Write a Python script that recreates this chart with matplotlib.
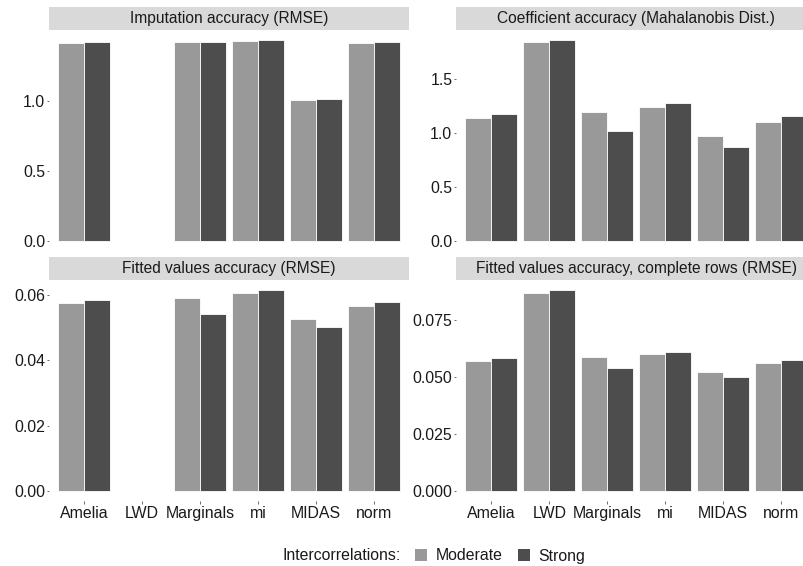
import numpy as np
import matplotlib
matplotlib.use("Agg")
from matplotlib import pyplot as plt
from matplotlib.patches import Patch

plt.rcParams['font.family'] = ['Liberation Sans', 'DejaVu Sans']

methods = ['Amelia', 'LWD', 'Marginals', 'mi', 'MIDAS', 'norm']
levels = ['Moderate', 'Strong']
colors = ['#999999', '#4d4d4d']

# RMSE of imputed values (LWD imputes nothing)
imp_moderate = [1.417, np.nan, 1.421, 1.429, 1.010, 1.417]
imp_strong = [1.419, np.nan, 1.421, 1.436, 1.012, 1.421]

# Mahalanobis distance of coefficients
coef_moderate = [1.133, 1.837, 1.194, 1.241, 0.969, 1.099]
coef_strong = [1.176, 1.858, 1.019, 1.275, 0.870, 1.155]

# RMSE of fitted values
fit_moderate = [0.0575, np.nan, 0.0592, 0.0607, 0.0527, 0.0566]
fit_strong = [0.0585, np.nan, 0.0544, 0.0616, 0.0503, 0.0579]

# RMSE of fitted values, complete rows only
fitc_moderate = [0.0570, 0.0867, 0.0589, 0.0601, 0.0523, 0.0563]
fitc_strong = [0.0582, 0.0882, 0.0541, 0.0611, 0.0500, 0.0575]

panels = [
    ("Imputation accuracy (RMSE)", imp_moderate, imp_strong,
     [0.0, 0.5, 1.0], "{:.1f}"),
    ("Coefficient accuracy (Mahalanobis Dist.)", coef_moderate, coef_strong,
     [0.0, 0.5, 1.0, 1.5], "{:.1f}"),
    ("Fitted values accuracy (RMSE)", fit_moderate, fit_strong,
     [0.0, 0.02, 0.04, 0.06], "{:.2f}"),
    ("Fitted values accuracy, complete rows (RMSE)", fitc_moderate, fitc_strong,
     [0.0, 0.025, 0.05, 0.075], "{:.3f}"),
]

W, H = 804, 566
FS = 11.4
fig = plt.figure(figsize=(W / 100, H / 100), dpi=100)


def px_rect(x0, y0, x1, y1):
    return [x0 / W, 1 - y1 / H, (x1 - x0) / W, (y1 - y0) / H]


cols = [(49.2, 408.8), (456.5, 816.1)]
rows = [((6.7, 30.0), (30.0, 251.0)), ((257.3, 280.0), (280.0, 501.0))]

x = np.arange(len(methods))
for i, (title, mod, strong, yticks, fmt) in enumerate(panels):
    r, c = divmod(i, 2)
    (sy0, sy1), (py0, py1) = rows[r]
    cx0, cx1 = cols[c]

    ax = fig.add_axes(px_rect(cx0, py0, cx1, py1))
    ax.bar(x - 0.225, mod, width=0.45, color=colors[0], edgecolor='white', linewidth=0.6)
    ax.bar(x + 0.225, strong, width=0.45, color=colors[1], edgecolor='white', linewidth=0.6)
    top = np.nanmax(np.concatenate([mod, strong]))
    ax.set_ylim(-0.05 * top, 1.05 * top)
    ax.set_xlim(-0.6, len(methods) - 0.4)
    for s in ax.spines.values():
        s.set_visible(False)
    ax.set_yticks(yticks)
    ax.set_yticklabels([fmt.format(v) for v in yticks])
    ax.tick_params(axis='y', length=1.8, width=0.5, color='#333333', pad=1.2,
                   labelsize=FS, labelcolor='#1a1a1a')
    if r == 1:
        ax.set_xticks(x)
        ax.set_xticklabels(methods)
        ax.tick_params(axis='x', length=1.8, width=0.5, color='#333333', pad=1.5,
                       labelsize=FS, labelcolor='#1a1a1a')
    else:
        ax.set_xticks([])

    sax = fig.add_axes(px_rect(cx0, sy0, cx1, sy1))
    sax.set_facecolor('#d9d9d9')
    sax.set_xticks([])
    sax.set_yticks([])
    for s in sax.spines.values():
        s.set_visible(False)
    sax.text(0.5, 0.5, title, ha='center', va='center', fontsize=11.2,
             color='#1a1a1a', transform=sax.transAxes)

fig.text(283 / W, 1 - 556 / H, "Intercorrelations:", ha='left', va='center',
         fontsize=FS, color='#1a1a1a')
handles = [Patch(facecolor=colors[k], edgecolor='none') for k in range(2)]
fig.legend(handles, levels, loc='center left', bbox_to_anchor=(415 / W, 1 - 556 / H),
           ncol=2, frameon=False, fontsize=FS, borderpad=0, borderaxespad=0,
           handlelength=0.76, handleheight=0.76, handletextpad=0.55,
           columnspacing=0.95, labelcolor='#1a1a1a')

fig.savefig("out.png", dpi=100)
